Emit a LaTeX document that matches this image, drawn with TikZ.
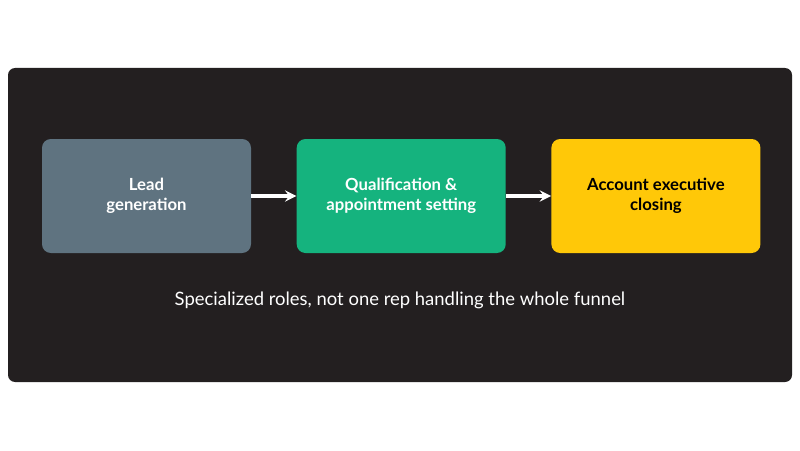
\documentclass[tikz,border=0pt]{standalone}
\usepackage{fontspec}
\setmainfont{Lato}
\usetikzlibrary{positioning}
\definecolor{panel}{HTML}{231F20}
\definecolor{leadgray}{HTML}{5F7380}
\definecolor{qualgreen}{HTML}{15B37E}
\definecolor{closeyellow}{HTML}{FFC808}
\tikzset{
  stage/.style={rounded corners=5pt,minimum width=4.18cm,minimum height=2.28cm,
    align=center,font=\fontsize{9.5}{11.5}\selectfont\bfseries,text=white},
  flow/.style={draw=white,line width=1.8pt,-stealth}
}
\begin{document}
\begin{tikzpicture}
\useasboundingbox (0,0) rectangle (16,9);
\fill [panel,rounded corners=4pt] (0.16,1.36) rectangle (15.84,7.64);
\node [stage,fill=leadgray] (lead) at (2.93,5.08) {Lead\\generation};
\node [stage,fill=qualgreen,right=0.9cm of lead] (qual) {Qualification \&\\appointment setting};
\node [stage,fill=closeyellow,text=black,right=0.9cm of qual] (close) {Account executive\\closing};
\draw [flow] (lead) -- (qual);
\draw [flow] (qual) -- (close);
\node [text=white,font=\fontsize{10.5}{12}\selectfont] (note) at (8,3) {Specialized roles, not one rep handling the whole funnel};
\end{tikzpicture}
\end{document}
